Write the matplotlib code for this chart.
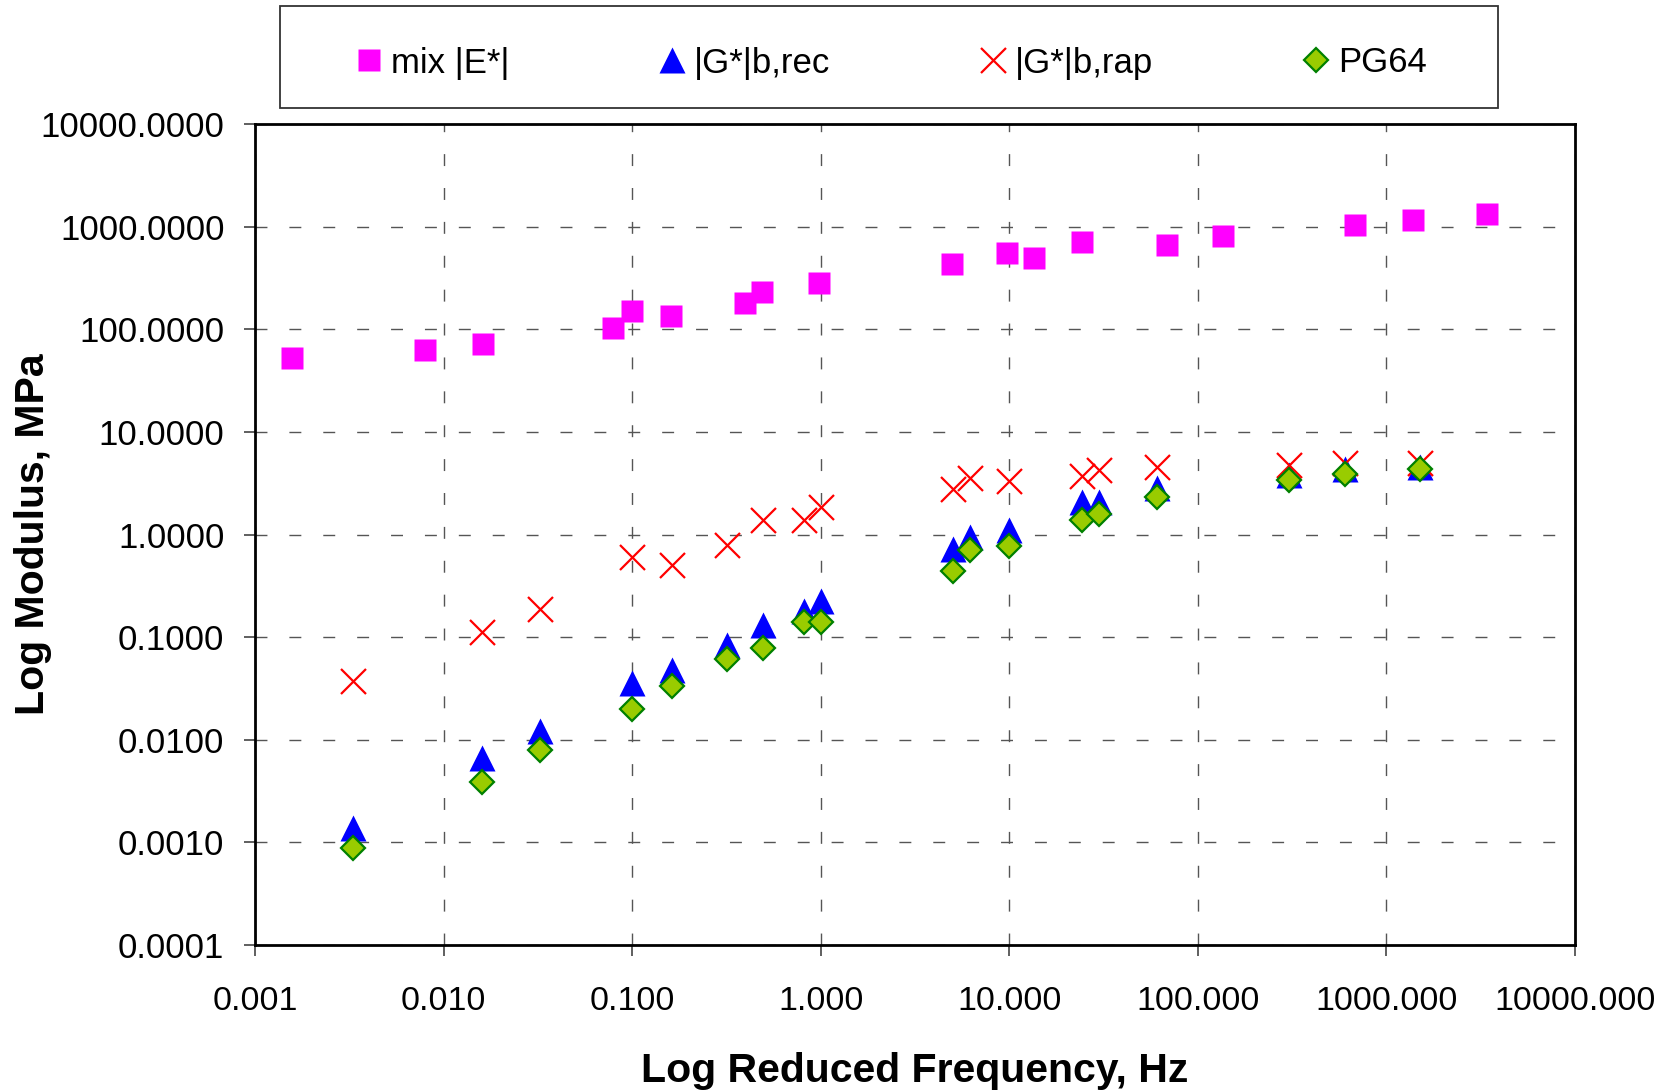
import matplotlib
matplotlib.use("Agg")
import matplotlib.pyplot as plt
from matplotlib.ticker import FixedLocator, FuncFormatter, NullLocator
from matplotlib.patches import Rectangle

plt.rcParams['font.family'] = ['Liberation Sans', 'DejaVu Sans']

# ---- data ----
mix_freq = [0.00158, 0.0080, 0.0161, 0.079, 0.0996, 0.160, 0.397, 0.487, 0.98,
            4.94, 9.7, 13.6, 24.2, 68.9, 136, 681, 1377, 3420]
mix_E = [52.8, 63.1, 71.8, 103.5, 151, 134, 181, 232, 285,
         432, 553, 491, 708, 667, 804, 1030, 1159, 1318]

gb_freq = [0.0033, 0.0160, 0.0324, 0.100, 0.163, 0.318, 0.496, 0.82, 1.0,
           5.0, 6.16, 10.0, 24.4, 30.0, 61.0, 306, 600, 1500]
gb_rec = [0.00138, 0.0066, 0.0123, 0.0354, 0.048, 0.084, 0.130, 0.179, 0.227,
          0.73, 0.94, 1.11, 2.06, 2.06, 2.81, 3.8, 4.33, 4.57]
gb_rap = [0.037, 0.113, 0.187, 0.61, 0.508, 0.786, 1.37, 1.37, 1.85,
          2.75, 3.56, 3.30, 3.75, 4.28, 4.51, 4.78, 5.03, 4.92]
pg64 = [0.00089, 0.0039, 0.00786, 0.0198, 0.0331, 0.0618, 0.0786, 0.139, 0.139,
        0.44, 0.70, 0.78, 1.40, 1.58, 2.30, 3.37, 3.89, 4.35]

series_labels = ["mix |E*|", "|G*|b,rec", "|G*|b,rap", "PG64"]
x_ticks = [0.001, 0.01, 0.1, 1, 10, 100, 1000, 10000]
y_ticks = [0.0001, 0.001, 0.01, 0.1, 1, 10, 100, 1000, 10000]
x_label = "Log Reduced Frequency, Hz"
y_label = "Log Modulus, MPa"

# ---- figure ----
W, H = 1676, 1092
fig = plt.figure(figsize=(W / 100, H / 100), dpi=100)
ax = fig.add_axes([255 / W, 1 - 945 / H, 1320 / W, 821 / H])

h1, = ax.plot(mix_freq, mix_E, linestyle='none', marker='s', ms=15.8,
              mfc='#FF00FF', mec='none', zorder=3)
h2, = ax.plot(gb_freq, gb_rec, linestyle='none', marker='^', ms=18.5,
              mfc='#0000FF', mec='none', zorder=4)
h3, = ax.plot(gb_freq, gb_rap, linestyle='none', marker='x', ms=18,
              mec='#FF0000', mew=1.6, zorder=5)
h4, = ax.plot(gb_freq, pg64, linestyle='none', marker='D', ms=12,
              mfc='#99CC00', mec='#008000', mew=1.6, zorder=6)

ax.set_xscale('log')
ax.set_yscale('log')
ax.set_xlim(0.001, 10000)
ax.set_ylim(0.0001, 10000)
ax.xaxis.set_major_locator(FixedLocator(x_ticks))
ax.yaxis.set_major_locator(FixedLocator(y_ticks))
ax.xaxis.set_minor_locator(NullLocator())
ax.yaxis.set_minor_locator(NullLocator())
ax.xaxis.set_major_formatter(FuncFormatter(lambda v, p: f"{v:.3f}"))
ax.yaxis.set_major_formatter(FuncFormatter(lambda v, p: f"{v:.4f}"))

ax.grid(True, which='major', color='#555555', linestyle=(0, (8.6, 15.8)),
        linewidth=1.0, zorder=1)
ax.set_axisbelow(True)
for s in ax.spines.values():
    s.set_linewidth(2.0)
    s.set_color('black')

ax.tick_params(axis='y', direction='out', length=8, width=1.2, color='#444444',
               labelsize=25, pad=14)
ax.tick_params(axis='x', direction='out', length=8, width=1.2, color='#444444',
               labelsize=24.5, pad=21.5)

fig.text(915 / W, 1 - 1082 / H, x_label, ha='center', va='baseline',
         fontsize=29.5, fontweight='bold')
fig.text(33 / W, 1 - 534 / H, y_label, ha='center', va='center',
         rotation=90, fontsize=29.5, fontweight='bold')

# ---- legend ----
lx0, lx1, ly0, ly1 = 280, 1498, 6, 108
fig.patches.append(Rectangle((lx0 / W, 1 - ly1 / H), (lx1 - lx0) / W, (ly1 - ly0) / H,
                             transform=fig.transFigure, fill=False,
                             edgecolor='#333333', linewidth=1.3))
fs = 25
shift = 6
fig.legend([h1, h2, h3, h4], series_labels, loc='center',
           bbox_to_anchor=(lx0 / W, 1 - (ly1 + shift) / H, (lx1 - lx0) / W, (ly1 - ly0) / H),
           bbox_transform=fig.transFigure, ncol=4, mode='expand', frameon=False,
           borderaxespad=0, borderpad=2.06, handlelength=1.0, handletextpad=0.13,
           fontsize=fs, numpoints=1)

fig.savefig("out.png", dpi=100)
